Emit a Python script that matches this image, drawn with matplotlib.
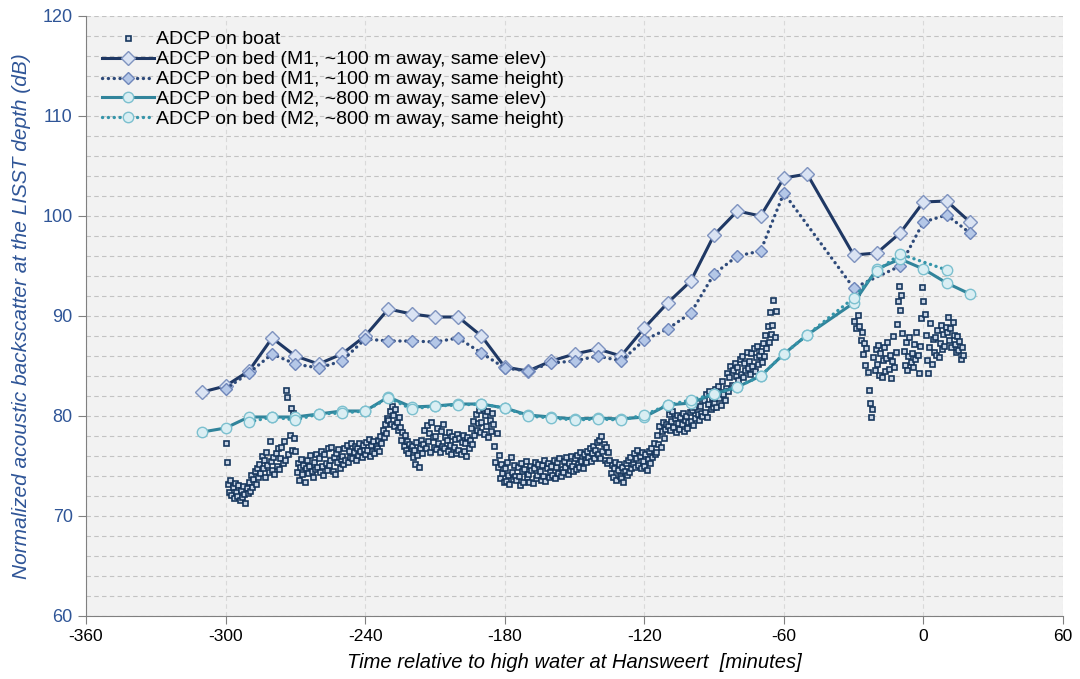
import numpy as np
import matplotlib.pyplot as plt

plt.rcParams['font.family'] = ['Liberation Sans', 'DejaVu Sans']
plt.rcParams['axes.unicode_minus'] = False

# ADCP on bed, M1 (~100 m away)
m1_elev_t = [-310, -300, -290, -280, -270, -260, -250, -240, -230, -220, -210, -200, -190,
             -180, -170, -160, -150, -140, -130, -120, -110, -100, -90, -80, -70, -60, -50,
             -30, -20, -10, 0, 10, 20]
m1_elev = [82.4, 83.0, 84.5, 87.8, 86.0, 85.2, 86.2, 88.0, 90.7, 90.2, 89.9, 89.9, 88.0,
           84.9, 84.5, 85.5, 86.2, 86.7, 86.0, 88.8, 91.3, 93.5, 98.1, 100.5, 100.0, 103.8, 104.2,
           96.1, 96.3, 98.3, 101.4, 101.5, 99.4]
m1_height_t = [-300, -290, -280, -270, -260, -250, -240, -230, -220, -210, -200, -190,
               -180, -170, -160, -150, -140, -130, -120, -110, -100, -90, -80, -70, -60,
               -30, -10, 0, 10, 20]
m1_height = [82.7, 84.3, 86.2, 85.2, 84.8, 85.5, 87.7, 87.5, 87.5, 87.4, 87.8, 86.3,
             84.8, 84.5, 85.3, 85.5, 86.0, 85.5, 87.6, 88.7, 90.3, 94.2, 96.0, 96.5, 102.3,
             92.8, 95.0, 99.4, 100.1, 98.3]

# ADCP on bed, M2 (~800 m away)
m2_elev_t = m1_elev_t
m2_elev = [78.4, 78.8, 79.9, 79.9, 79.9, 80.2, 80.5, 80.5, 81.9, 80.9, 81.0, 81.2, 81.2,
           80.8, 80.1, 79.9, 79.7, 79.8, 79.7, 79.9, 81.1, 81.3, 82.2, 82.9, 84.0, 86.2, 88.1,
           91.3, 94.7, 95.7, 94.7, 93.3, 92.2]
m2_height_t = [-290, -280, -270, -260, -250, -240, -230, -220, -210, -200, -190,
               -180, -170, -160, -150, -140, -130, -120, -110, -100, -90, -80, -70, -60, -50,
               -30, -20, -10, 10]
m2_height = [79.4, 79.9, 79.6, 80.2, 80.3, 80.5, 81.8, 80.7, 81.0, 81.1, 81.2,
             80.8, 80.0, 79.8, 79.6, 79.7, 79.6, 80.1, 81.1, 81.6, 82.2, 82.9, 84.0, 86.2, 88.1,
             91.8, 94.5, 96.2, 94.6]

# ADCP on boat, read every half minute
boat_t1 = np.arange(-300, -63.4, 0.5)
boat_v1 = [
    77.3, 75.4, 73.2, 72.4, 73.6, 72.1, 72.9, 71.8, 73.3, 72.4,
    72.0, 73.1, 71.6, 72.6, 71.9, 73.0, 72.2, 71.3, 72.8, 72.3,
    73.4, 72.5, 74.1, 72.9, 73.7, 74.5, 73.2, 74.8, 73.9, 75.2,
    74.3, 76.0, 74.8, 75.6, 73.9, 76.4, 75.1, 74.4, 77.5, 75.5,
    74.6, 75.9, 74.2, 76.3, 75.0, 76.8, 74.7, 75.8, 76.9, 75.3,
    77.5, 75.6, 82.6, 81.9, 76.2, 78.1, 80.8, 76.6, 80.3, 77.8,
    76.5, 74.4, 75.3, 73.6, 74.9, 75.7, 74.2, 75.1, 73.4, 74.8,
    75.6, 74.3, 75.0, 76.1, 74.5, 73.9, 75.4, 74.7, 76.2, 74.9,
    75.8, 74.4, 76.5, 75.0, 74.1, 76.2, 75.3, 74.6, 76.8, 75.1,
    75.6, 76.9, 74.5, 75.9, 74.2, 76.3, 75.4, 76.7, 74.8, 75.7,
    76.0, 75.2, 76.8, 75.6, 77.1, 75.4, 76.5, 75.9, 77.3, 75.8,
    76.4, 77.0, 75.6, 76.8, 76.1, 77.3, 76.5, 75.9, 77.1, 76.6,
    76.2, 77.4, 76.6, 77.7, 76.0, 77.1, 76.5, 77.5, 76.3, 77.0,
    76.8, 77.6, 76.5, 78.0, 77.3, 78.6, 77.9, 79.2, 78.3, 79.8,
    79.6, 80.5, 79.2, 81.0, 80.1, 79.0, 80.7, 79.4, 78.6, 79.9,
    78.9, 77.6, 78.4, 77.0, 78.1, 76.6, 77.5, 76.3, 77.2, 76.8,
    77.0, 75.9, 76.6, 75.2, 77.4, 76.1, 74.9, 76.8, 77.6, 76.3,
    77.2, 78.6, 76.8, 79.1, 77.5, 78.3, 76.4, 79.4, 77.9, 76.9,
    78.0, 76.7, 78.8, 77.3, 76.4, 78.5, 77.0, 79.2, 76.8, 77.9,
    77.6, 76.5, 78.4, 77.1, 76.2, 78.0, 76.9, 77.7, 76.3, 78.2,
    76.6, 77.8, 76.2, 77.4, 78.1, 76.5, 77.3, 76.0, 77.9, 76.8,
    77.6, 78.8, 77.2, 79.5, 78.1, 80.2, 78.6, 79.3, 80.6, 78.4,
    79.4, 80.8, 78.2, 80.1, 79.0, 80.5, 77.9, 79.6, 78.5, 80.3,
    79.2, 77.0, 75.4, 78.3, 74.9, 76.1, 73.8, 75.2, 74.3, 73.4,
    74.8, 73.5, 75.4, 74.1, 73.2, 75.9, 74.4, 73.7, 75.1, 74.0,
    73.6, 74.9, 74.0, 73.1, 75.3, 74.5, 73.4, 74.7, 75.5, 73.9,
    74.2, 73.4, 75.0, 74.6, 73.3, 74.8, 75.4, 73.8, 74.1, 75.2,
    74.5, 73.6, 75.1, 74.0, 75.6, 73.5, 74.8, 75.3, 73.9, 74.4,
    75.0, 74.1, 75.6, 73.8, 74.9, 75.4, 74.3, 75.8, 74.0, 74.7,
    74.4, 75.5, 74.9, 75.9, 74.2, 75.3, 74.6, 76.0, 75.0, 74.5,
    75.8, 74.7, 76.1, 75.2, 74.9, 76.4, 75.5, 74.8, 76.2, 75.6,
    75.4, 76.5, 75.9, 76.8, 75.5, 76.3, 77.0, 75.8, 76.6, 77.4,
    76.2, 77.6, 75.8, 78.0, 76.5, 77.2, 75.6, 76.9, 75.3, 76.4,
    75.6, 74.3, 75.1, 73.9, 74.8, 75.4, 73.6, 74.6, 75.2, 74.0,
    73.8, 74.9, 73.4, 74.5, 75.3, 74.1, 75.6, 74.4, 75.9, 74.8,
    75.2, 76.3, 74.9, 75.8, 76.6, 75.1, 76.0, 74.8, 76.4, 75.5,
    75.0, 76.2, 74.6, 75.7, 76.5, 75.3, 76.8, 75.9, 77.3, 76.2,
    76.4, 78.1, 77.2, 79.0, 76.9, 78.5, 79.4, 77.8, 78.7, 79.2,
    79.0, 80.2, 78.6, 79.5, 80.5, 78.9, 79.8, 78.4, 80.1, 79.3,
    78.7, 79.9, 79.2, 80.3, 78.5, 79.6, 80.0, 78.8, 79.4, 80.4,
    79.5, 80.6, 79.1, 80.9, 79.8, 81.4, 80.2, 79.6, 81.0, 80.3,
    80.0, 81.6, 80.4, 82.2, 79.9, 81.2, 82.5, 80.7, 81.8, 80.9,
    81.3, 82.7, 80.9, 83.0, 81.8, 82.4, 81.1, 83.5, 82.2, 81.6,
    82.8, 84.3, 82.5, 83.9, 85.0, 83.1, 84.6, 82.9, 85.3, 84.0,
    84.9, 83.6, 85.7, 84.2, 86.0, 83.9, 85.3, 84.6, 86.4, 84.8,
    85.5, 84.2, 86.3, 85.0, 86.8, 84.5, 85.9, 87.0, 85.2, 86.1,
    86.5, 85.4, 87.3, 86.0, 88.1, 86.8, 89.0, 87.4, 90.4, 88.2,
    89.1, 91.6, 87.9, 90.5,
]
boat_t2 = np.arange(-30, 17.1, 0.5)
boat_v2 = [
    89.5, 91.2, 88.8, 92.4, 90.1, 89.0, 87.6, 88.4, 86.2, 87.3,
    85.1, 86.8, 84.4, 82.6, 81.3, 79.9, 80.7, 85.9, 84.6, 86.7,
    85.2, 87.1, 84.1, 86.3, 83.9, 85.6, 86.9, 84.5, 85.8, 87.4,
    84.7, 86.1, 83.8, 85.5, 88.0, 84.9, 86.4, 89.2, 91.5, 93.0,
    90.6, 92.1, 88.3, 86.5, 85.1, 87.4, 84.6, 86.0, 87.9, 85.4,
    86.3, 84.9, 87.2, 85.7, 88.4, 86.1, 84.3, 87.0, 89.8, 92.9,
    91.5, 90.2, 88.1, 85.6, 84.3, 86.9, 89.3, 85.2, 87.7, 86.4,
    87.9, 86.1, 88.6, 85.9, 87.3, 89.1, 86.7, 88.2, 87.0, 88.9,
    88.4, 89.9, 87.6, 88.8, 86.9, 89.4, 88.1, 87.2, 86.4, 88.0,
    86.6, 87.5, 85.7, 86.9, 86.1,
]

boat_t = np.concatenate([boat_t1, boat_t2])
boat_v = np.array(boat_v1 + boat_v2)

navy = '#1F3864'
teal = '#31849B'
blue_txt = '#2F5597'
dots = (0, (0.05, 1.7))

fig = plt.figure(figsize=(10.8, 6.79), dpi=100)
ax = fig.add_axes([86/1080, 63/679, 977/1080, 600/679])
ax.set_facecolor('#F2F2F2')

ax.plot(boat_t, boat_v, 's', ms=3.6, mfc='#C9D4E4', mec='#17375E', mew=1.2,
        ls='none', label='ADCP on boat', zorder=2)
ax.plot(m1_elev_t, m1_elev, '-D', color=navy, lw=2.2, ms=7, mfc='#DAE3F3', mec='#7F93BF',
        mew=1, label='ADCP on bed (M1, ~100 m away, same elev)', zorder=3)
ax.plot(m1_height_t, m1_height, 'D', ls=dots, color='#2E4A7A', lw=2.4, ms=6.5,
        mfc='#B4C7E7', mec='#6F86BA', mew=1, dash_capstyle='round',
        label='ADCP on bed (M1, ~100 m away, same height)', zorder=3)
ax.plot(m2_elev_t, m2_elev, '-o', color=teal, lw=2.2, ms=7.5, mfc='#DAEEF3', mec='#7CC0CF',
        mew=1, label='ADCP on bed (M2, ~800 m away, same elev)', zorder=4)
ax.plot(m2_height_t, m2_height, 'o', ls=dots, color='#3595AA', lw=2.4, ms=7.5,
        mfc='#DAEEF3', mec='#7CC0CF', mew=1, dash_capstyle='round',
        label='ADCP on bed (M2, ~800 m away, same height)', zorder=4)

ax.set_xlim(-360, 60)
ax.set_ylim(60, 120)
ax.set_xticks(np.arange(-360, 61, 60))
ax.set_yticks(np.arange(60, 121, 10))
ax.set_yticks(np.arange(60, 121, 2), minor=True)
ax.tick_params(axis='y', which='minor', length=0)
ax.tick_params(axis='y', which='major', labelsize=13, labelcolor=blue_txt, color='#808080', length=6)
ax.tick_params(axis='x', labelsize=12.5, color='#808080', length=6)

ax.grid(axis='y', which='both', ls=(0, (4, 3)), color='#C3C3C3', lw=0.8)
ax.grid(axis='x', which='major', ls=(0, (4, 3)), color='#D9D9D9', lw=0.8)
ax.set_axisbelow(True)
for s in ['top', 'right']:
    ax.spines[s].set_visible(False)
for s in ['left', 'bottom']:
    ax.spines[s].set_color('#808080')

ax.set_xlabel('Time relative to high water at Hansweert  [minutes]', fontsize=14.5,
              style='italic', labelpad=6)
ax.set_ylabel('Normalized acoustic backscatter at the LISST depth (dB)', fontsize=15,
              style='italic', color=blue_txt, labelpad=8)

ax.legend(loc='upper left', bbox_to_anchor=(0.002, 0.998), frameon=False, fontsize=14,
          handlelength=2.7, handletextpad=0.1, labelspacing=0.12, borderaxespad=0.3)

fig.savefig('out.png', dpi=100)
